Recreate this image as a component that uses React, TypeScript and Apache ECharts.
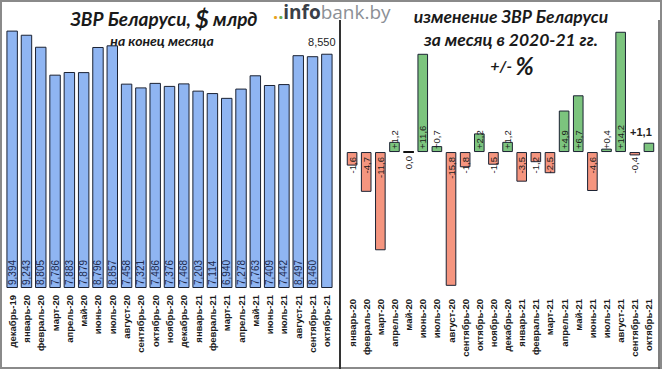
import React, { useEffect, useRef } from "react";
import * as echarts from "echarts";

const levelMonths = [
  "декабрь-19", "январь-20", "февраль-20", "март-20", "апрель-20", "май-20", "июнь-20", "июль-20",
  "август-20", "сентябрь-20", "октябрь-20", "ноябрь-20", "декабрь-20", "январь-21", "февраль-21",
  "март-21", "апрель-21", "май-21", "июнь-21", "июль-21", "август-21", "сентябрь-21", "октябрь-21",
];
const levelValues = [
  9.394, 9.243, 8.805, 7.786, 7.883, 7.879, 8.796, 8.857, 7.458, 7.321, 7.486, 7.376, 7.468, 7.203,
  7.114, 6.94, 7.278, 7.763, 7.409, 7.442, 8.497, 8.46, 8.55,
];
const changeMonths = levelMonths.slice(1);
const changeValues = [
  -1.6, -4.7, -11.6, 1.2, 0.0, 11.6, 0.7, -15.8, -1.8, 2.2, -1.5, 1.2, -3.5, -1.2, -2.5, 4.9, 6.7,
  -4.6, 0.4, 14.2, -0.4, 1.1,
];

const BLUE = "#8fb5f2";
const GREEN = "#7cc47e";
const RED = "#f5957f";
const EDGE = "#1b2233";
const LABEL_FONT = "'Liberation Sans', Arial, sans-serif";
const TITLE_FONT = "Lato, 'Open Sans', sans-serif";

const fmtLevel = (v: number) => v.toFixed(3).replace(".", ",");
const fmtChange = (v: number) =>
  (v > 0 ? "+" : v < 0 ? "-" : "") + Math.abs(v).toFixed(1).replace(".", ",");

export default function App() {
  const ref = useRef<HTMLDivElement>(null);
  useEffect(() => {
    if (!ref.current) return;
    const chart = echarts.init(ref.current, null, { renderer: "svg" });

    const levelData = levelValues.map((v, i) => {
      if (i === levelValues.length - 1) {
        return {
          value: v,
          label: {
            position: "top",
            rotate: 0,
            align: "center",
            verticalAlign: "bottom",
            distance: 6,
            offset: [-5, 0],
            fontSize: 11,
            color: "#222",
          },
        };
      }
      return { value: v };
    });

    const changeData = changeValues.map((v, i) => {
      const last = i === changeValues.length - 1;
      const pos = v > 0;
      return {
        value: v,
        itemStyle: {
          color: pos ? GREEN : v < 0 ? RED : "#111",
          borderColor: v === 0 ? "#111" : EDGE,
          borderWidth: v === 0 ? 2 : 1,
        },
        label: last
          ? {
              position: "top",
              rotate: 0,
              align: "center",
              verticalAlign: "bottom",
              distance: 5,
              offset: [-8, 0],
              fontSize: 11,
              fontWeight: "bold",
              color: "#222",
            }
          : pos
          ? { position: "insideBottom", rotate: 90, align: "left", verticalAlign: "middle", distance: 3 }
          : { position: "insideTop", rotate: 90, align: "right", verticalAlign: "middle", distance: 5 },
      };
    });

    const axisLabelStyle = {
      rotate: 90,
      interval: 0,
      fontSize: 9.5,
      fontWeight: "bold",
      color: "#1a1a1a",
      fontFamily: LABEL_FONT,
    };

    chart.setOption({
      animation: false,
      backgroundColor: "#ffffff",
      grid: [
        { left: 5, width: 329, top: 14, bottom: 81 },
        { left: 345, width: 311, top: 25, bottom: 73 },
      ],
      xAxis: [
        {
          type: "category",
          gridIndex: 0,
          data: levelMonths,
          axisLine: { show: false },
          axisTick: { show: false },
          axisLabel: { ...axisLabelStyle, margin: 7 },
        },
        {
          type: "category",
          gridIndex: 1,
          data: changeMonths,
          axisLine: { show: false, onZero: false },
          axisTick: { show: false },
          axisLabel: { ...axisLabelStyle, margin: 3 },
        },
      ],
      yAxis: [
        { type: "value", gridIndex: 0, min: 0, max: 10, show: false },
        { type: "value", gridIndex: 1, min: -17, max: 15, show: false },
      ],
      series: [
        {
          type: "bar",
          xAxisIndex: 0,
          yAxisIndex: 0,
          data: levelData,
          barCategoryGap: "20%",
          itemStyle: { color: BLUE, borderColor: EDGE, borderWidth: 1 },
          label: {
            show: true,
            position: "insideBottom",
            rotate: 90,
            align: "left",
            verticalAlign: "middle",
            distance: 3,
            fontSize: 10,
            fontFamily: LABEL_FONT,
            color: "#1d2a4d",
            formatter: (p: any) => fmtLevel(p.value),
          },
        },
        {
          type: "bar",
          xAxisIndex: 1,
          yAxisIndex: 1,
          data: changeData,
          barCategoryGap: "25%",
          label: {
            show: true,
            fontSize: 9.5,
            fontFamily: LABEL_FONT,
            color: "#1a1a1a",
            formatter: (p: any) => fmtChange(p.value),
          },
        },
      ],
      graphic: [
        {
          type: "rect",
          shape: { x: 0.5, y: 0.5, width: 661, height: 368 },
          style: { fill: "none", stroke: "#8a8a8a", lineWidth: 3 },
          silent: true,
        },
        {
          type: "line",
          shape: { x1: 340, y1: 20, x2: 340, y2: 369 },
          style: { stroke: "#333", lineWidth: 2 },
        },
        {
          type: "line",
          shape: { x1: 659, y1: 20, x2: 659, y2: 369 },
          style: { stroke: "#555", lineWidth: 1.5 },
        },
        {
          type: "text",
          x: 164,
          y: 18,
          style: {
            text: "{a|ЗВР Беларуси, }{b|$}{a| млрд}",
            align: "center",
            verticalAlign: "middle",
            rich: {
              a: { fontSize: 19, fontWeight: "bold", fontStyle: "italic", fontFamily: TITLE_FONT, fill: "#1a1a1a" },
              b: { fontSize: 24, fontWeight: "bold", fontStyle: "italic", fontFamily: TITLE_FONT, fill: "#1a1a1a" },
            },
          },
        },
        {
          type: "text",
          x: 162,
          y: 40,
          style: {
            text: "на конец месяца",
            align: "center",
            verticalAlign: "middle",
            fontSize: 14,
            fontWeight: "bold",
            fontStyle: "italic",
            fontFamily: TITLE_FONT,
            fill: "#1a1a1a",
          },
        },
        {
          type: "text",
          x: 511,
          y: 16,
          style: {
            text: "изменение ЗВР Беларуси",
            align: "center",
            verticalAlign: "middle",
            fontSize: 17.5,
            fontWeight: "bold",
            fontStyle: "italic",
            fontFamily: TITLE_FONT,
            fill: "#1a1a1a",
          },
        },
        {
          type: "text",
          x: 511,
          y: 39,
          style: {
            text: "за месяц в 2020-21 гг.",
            align: "center",
            verticalAlign: "middle",
            fontSize: 17.5,
            fontWeight: "bold",
            fontStyle: "italic",
            fontFamily: TITLE_FONT,
            fill: "#1a1a1a",
          },
        },
        {
          type: "text",
          x: 512,
          y: 65,
          style: {
            text: "{a|+/- }{b|%}",
            align: "center",
            verticalAlign: "middle",
            rich: {
              a: { fontSize: 16, fontWeight: "bold", fontStyle: "italic", fontFamily: TITLE_FONT, fill: "#1a1a1a" },
              b: { fontSize: 24, fontWeight: "bold", fontStyle: "italic", fontFamily: TITLE_FONT, fill: "#1a1a1a" },
            },
          },
        },
        {
          type: "text",
          x: 273,
          y: 12,
          style: {
            text: "{d|.}{g|.}{i|info}{b|bank.by}",
            align: "left",
            verticalAlign: "middle",
            rich: {
              d: { fontSize: 18, fontWeight: "bold", fill: "#e8a21c", fontFamily: "'Open Sans', sans-serif" },
              g: { fontSize: 18, fontWeight: "bold", fill: "#6ab04c", fontFamily: "'Open Sans', sans-serif" },
              i: { fontSize: 19, fontWeight: "bold", fill: "#3a3f47", fontFamily: "'Open Sans', sans-serif" },
              b: { fontSize: 19, fill: "#8c9096", fontFamily: "'Open Sans', sans-serif" },
            },
          },
        },
      ],
    });
    return () => chart.dispose();
  }, []);
  return (
    <div
      ref={ref}
      style={{ position: "fixed", left: 0, top: 0, width: 662, height: 369 }}
    />
  );
}
